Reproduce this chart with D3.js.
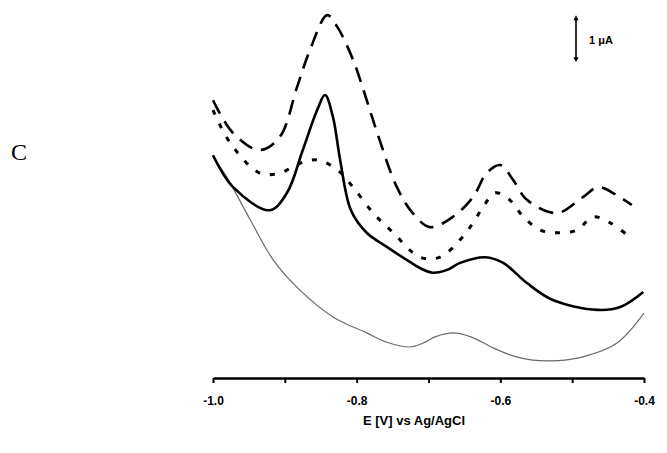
<!DOCTYPE html>
<html lang="en">
<head>
    <meta charset="utf-8">
    <title>Voltammograms C</title>
    <script src="https://cdn.jsdelivr.net/npm/d3@7"></script>
    <style>
        body { margin: 0; background: #fff; }
    </style>
</head>
<body>
<script>
    // potential (V vs Ag/AgCl) and current (uA, arbitrary offset)
    var dashedE = [-1.000, -0.972, -0.935, -0.907, -0.883, -0.865, -0.841, -0.827, -0.805, -0.786, -0.768, -0.744, -0.722, -0.698, -0.666, -0.638, -0.619, -0.600, -0.582, -0.563, -0.521, -0.485, -0.464, -0.438, -0.417];
    var dashedI = [5.91, 5.21, 4.85, 5.13, 6.19, 6.98, 7.72, 7.47, 6.77, 5.91, 5.06, 4.06, 3.51, 3.21, 3.43, 3.85, 4.36, 4.53, 4.21, 3.79, 3.51, 3.85, 4.06, 3.89, 3.68];

    var dottedE = [-1.000, -0.976, -0.935, -0.907, -0.879, -0.855, -0.827, -0.805, -0.777, -0.749, -0.712, -0.684, -0.656, -0.638, -0.624, -0.607, -0.587, -0.568, -0.545, -0.521, -0.493, -0.471, -0.447, -0.420];
    var dottedI = [5.70, 5.00, 4.36, 4.36, 4.57, 4.64, 4.43, 4.06, 3.51, 3.09, 2.57, 2.57, 2.94, 3.30, 3.64, 3.94, 3.79, 3.43, 3.15, 3.09, 3.15, 3.43, 3.30, 3.00];

    var solidE = [-1.000, -0.972, -0.921, -0.897, -0.875, -0.855, -0.844, -0.833, -0.823, -0.808, -0.786, -0.758, -0.726, -0.712, -0.694, -0.674, -0.656, -0.621, -0.596, -0.563, -0.527, -0.465, -0.433, -0.401];
    var solidI = [4.74, 4.06, 3.57, 3.94, 4.85, 5.70, 6.02, 5.55, 4.64, 3.57, 3.09, 2.79, 2.47, 2.34, 2.24, 2.30, 2.45, 2.57, 2.45, 2.02, 1.66, 1.45, 1.51, 1.83];

    var thinE = [-1.000, -0.981, -0.948, -0.916, -0.879, -0.833, -0.786, -0.758, -0.726, -0.708, -0.690, -0.666, -0.640, -0.610, -0.580, -0.555, -0.520, -0.485, -0.438, -0.400];
    var thinI = [4.70, 4.28, 3.36, 2.51, 1.87, 1.30, 0.96, 0.76, 0.66, 0.74, 0.88, 0.96, 0.87, 0.64, 0.46, 0.38, 0.37, 0.45, 0.74, 1.38];

    var xTicks = [-1.0, -0.9, -0.8, -0.7, -0.6, -0.5, -0.4];
    var xLabels = ["-1.0", "-0.8", "-0.6", "-0.4"];

    var width = 667, height = 453;
    var svg = d3.select("body").append("svg").attr("width", width).attr("height", height);

    var x = d3.scaleLinear().domain([-1.0, -0.4]).range([213, 644]);
    var y = d3.scaleLinear().domain([0, 8]).range([378, 2]);

    function zip(e, i) { return e.map(function (v, k) { return [v, i[k]]; }); }

    var line = d3.line()
        .x(function (d) { return x(d[0]); })
        .y(function (d) { return y(d[1]); })
        .curve(d3.curveCatmullRom.alpha(0.5));

    svg.append("path").attr("d", line(zip(thinE, thinI)))
        .attr("fill", "none").attr("stroke", "#6a6a6a").attr("stroke-width", 1.2);
    svg.append("path").attr("d", line(zip(solidE, solidI)))
        .attr("fill", "none").attr("stroke", "#000").attr("stroke-width", 2.6);
    svg.append("path").attr("d", line(zip(dottedE, dottedI)))
        .attr("fill", "none").attr("stroke", "#000").attr("stroke-width", 3)
        .attr("stroke-dasharray", "5,10");
    svg.append("path").attr("d", line(zip(dashedE, dashedI)))
        .attr("fill", "none").attr("stroke", "#000").attr("stroke-width", 2.6)
        .attr("stroke-dasharray", "15,9");

    // x axis
    var xAxis = d3.axisBottom(x).tickValues(xTicks).tickSize(5).tickSizeOuter(0)
        .tickFormat(function (d) {
            var s = d.toFixed(1);
            return xLabels.indexOf(s) >= 0 ? s : "";
        });
    var gx = svg.append("g").attr("transform", "translate(0,378)").call(xAxis);
    gx.select(".domain").attr("stroke-width", 2.5);
    gx.selectAll(".tick line").attr("stroke-width", 2);
    gx.selectAll(".tick text")
        .attr("dy", "1.55em")
        .style("font-family", "Liberation Sans, Arial, sans-serif")
        .style("font-size", "12px").style("font-weight", "bold");

    svg.append("text").text("E [V] vs Ag/AgCl")
        .attr("x", 414).attr("y", 425).attr("text-anchor", "middle")
        .style("font-family", "Liberation Sans, Arial, sans-serif")
        .style("font-size", "13px").style("font-weight", "bold");

    // panel letter
    svg.append("text").text("C").attr("x", 11).attr("y", 160)
        .style("font-family", "Liberation Serif, Times New Roman, serif")
        .style("font-size", "24px");

    // 1 uA scale bar
    var barX = 576;
    var barTop = y(7.72), barBot = y(6.72);
    svg.append("line").attr("x1", barX).attr("x2", barX).attr("y1", barTop + 3).attr("y2", barBot - 3)
        .attr("stroke", "#000").attr("stroke-width", 1.6);
    svg.append("path").attr("d", "M" + (barX - 2.5) + "," + (barTop + 5) + "L" + barX + "," + barTop + "L" + (barX + 2.5) + "," + (barTop + 5) + "Z");
    svg.append("path").attr("d", "M" + (barX - 2.5) + "," + (barBot - 5) + "L" + barX + "," + barBot + "L" + (barX + 2.5) + "," + (barBot - 5) + "Z");
    svg.append("text").text("1 \u03bcA").attr("x", 589).attr("y", 44)
        .style("font-family", "Liberation Sans, Arial, sans-serif")
        .style("font-size", "11px").style("font-weight", "bold");
</script>
</body>
</html>
